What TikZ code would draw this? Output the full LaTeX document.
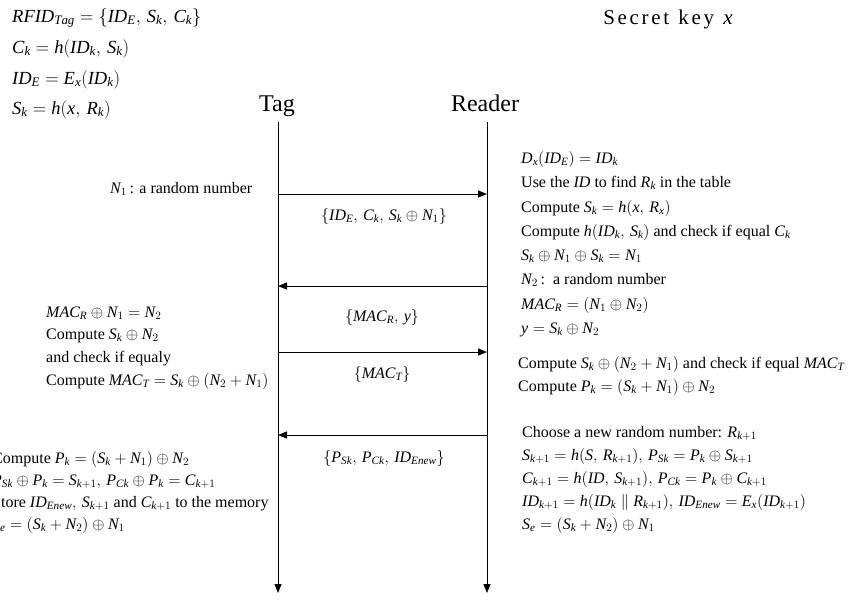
\RequirePackage{fix-cm}
\documentclass[tikz,border=0pt]{standalone}
\usepackage{fontspec}
\setmainfont{Liberation Serif}
\newfontfamily\tmsfam[NFSSFamily=tmsit]{Liberation Serif}
\DeclareSymbolFont{tletters}{TU}{tmsit}{m}{it}
\newcount\lettercnt
\lettercnt=65
\loop
  \mathcode\lettercnt=\numexpr "7000+\symtletters*256+\lettercnt\relax
  \advance\lettercnt by 1
\ifnum\lettercnt<91 \repeat
\lettercnt=97
\loop
  \mathcode\lettercnt=\numexpr "7000+\symtletters*256+\lettercnt\relax
  \advance\lettercnt by 1
\ifnum\lettercnt<123 \repeat
\newcommand{\cma}{,\mkern3mu}
\usetikzlibrary{arrows.meta}
\tikzset{
  txt/.style={anchor=base west, inner sep=0pt, font=\fontsize{16}{19}\selectfont},
  toptxt/.style={anchor=base west, inner sep=0pt, font=\fontsize{18.5}{22}\selectfont},
  msg/.style={inner sep=0pt, font=\fontsize{16}{19}\selectfont},
  head/.style={anchor=base, inner sep=0pt, font=\fontsize{24}{28}\selectfont},
  life/.style={line width=0.9pt, -{Triangle[length=9pt,width=7pt]}},
  arr/.style={line width=0.9pt, -{Triangle[length=9pt,width=7pt]}}
}
\begin{document}
\begin{tikzpicture}[x=1pt,y=-1pt]
\useasboundingbox (0,0) rectangle (854,606);
% top-left definitions
\node[toptxt] (d1) at (12,22) {$RFID_{Tag}=\{ID_E\cma S_k\cma C_k\}$};
\node[toptxt] (d2) at (12,53) {$C_k=h(ID_k\cma S_k)$};
\node[toptxt] (d3) at (12,84) {$ID_E=E_x(ID_k)$};
\node[toptxt] (d4) at (12,114) {$S_k=h(x\cma R_k)$};
\node[anchor=base, inner sep=0pt, font=\fontsize{21}{24}\selectfont] (key) at (668,24)
  {S\kern2.7pt e\kern2.7pt c\kern2.7pt r\kern2.7pt e\kern2.7pt t\kern4pt\ k\kern2.7pt e\kern2.7pt y\kern4pt\ $x$};
% participants
\node[head] (tag) at (277,111) {Tag};
\node[head] (reader) at (485,111) {Reader};
\coordinate (tagtop) at (278,122);
\coordinate (tagbot) at (278,593);
\coordinate (rdtop) at (487,122);
\coordinate (rdbot) at (487,593);
\draw[life] (tagtop) -- (tagbot);
\draw[life] (rdtop) -- (rdbot);
% messages
\coordinate (t1) at (278,194); \coordinate (r1) at (487,194);
\coordinate (t2) at (278,286); \coordinate (r2) at (487,286);
\coordinate (t3) at (278,352); \coordinate (r3) at (487,352);
\coordinate (t4) at (278,435); \coordinate (r4) at (487,435);
\draw[arr] (t1) -- (r1);
\draw[arr] (r2) -- (t2);
\draw[arr] (t3) -- (r3);
\draw[arr] (r4) -- (t4);
\node[msg] (m1) at (384,216) {$\{ID_E\cma C_k\cma S_k\oplus N_1\}$};
\node[msg] (m2) at (382,317) {$\{MAC_R\cma y\}$};
\node[msg] (m3) at (382,374) {$\{MAC_T\}$};
\node[msg] (m4) at (384,458) {$\{P_{Sk}\cma P_{Ck}\cma ID_{Enew}\}$};
% tag side
\node[txt] (n1) at (110,193) {$N_1$\,: a random number};
\node[txt] (l1) at (46,317) {$MAC_R\oplus N_1=N_2$};
\node[txt] (l2) at (46,339) {Compute $S_k\oplus N_2$};
\node[txt] (l3) at (46,362) {and check if equaly};
\node[txt] (l4) at (46,385) {Compute $MAC_T=S_k\oplus(N_2+N_1)$};
\node[txt] (l5) at (-8,463) {Compute $P_k=(S_k+N_1)\oplus N_2$};
\node[txt] (l6) at (-8,485) {$P_{Sk}\oplus P_k=S_{k+1}\cma P_{Ck}\oplus P_k=C_{k+1}$};
\node[txt] (l7) at (-8,507) {Store $ID_{Enew}\cma S_{k+1}$ and $C_{k+1}$ to the memory};
\node[txt] (l8) at (-8,529) {$S_e=(S_k+N_2)\oplus N_1$};
% reader side
\node[txt] (r01) at (521,163) {$D_x(ID_E)=ID_k$};
\node[txt] (r02) at (521,187) {Use the $ID$ to find $R_k$ in the table};
\node[txt] (r03) at (521,212) {Compute $S_k=h(x\cma R_x)$};
\node[txt] (r04) at (521,236) {Compute $h(ID_k\cma S_k)$ and check if equal $C_k$};
\node[txt] (r05) at (521,260) {$S_k\oplus N_1\oplus S_k=N_1$};
\node[txt] (r06) at (521,284) {$N_2$\,:\ \ a random number};
\node[txt] (r07) at (521,309) {$MAC_R=(N_1\oplus N_2)$};
\node[txt] (r08) at (521,333) {$y=S_k\oplus N_2$};
\node[txt] (r09) at (518,368) {Compute $S_k\oplus(N_2+N_1)$ and check if equal $MAC_T$};
\node[txt] (r10) at (518,391) {Compute $P_k=(S_k+N_1)\oplus N_2$};
\node[txt] (r11) at (522,437) {Choose a new random number: $R_{k+1}$};
\node[txt] (r12) at (522,460) {$S_{k+1}=h(S\cma R_{k+1})\cma P_{Sk}=P_k\oplus S_{k+1}$};
\node[txt] (r13) at (522,483) {$C_{k+1}=h(ID\cma S_{k+1})\cma P_{Ck}=P_k\oplus C_{k+1}$};
\node[txt] (r14) at (522,506) {$ID_{k+1}=h(ID_k\parallel R_{k+1})\cma ID_{Enew}=E_x(ID_{k+1})$};
\node[txt] (r15) at (522,529) {$S_e=(S_k+N_2)\oplus N_1$};
\end{tikzpicture}
\end{document}
